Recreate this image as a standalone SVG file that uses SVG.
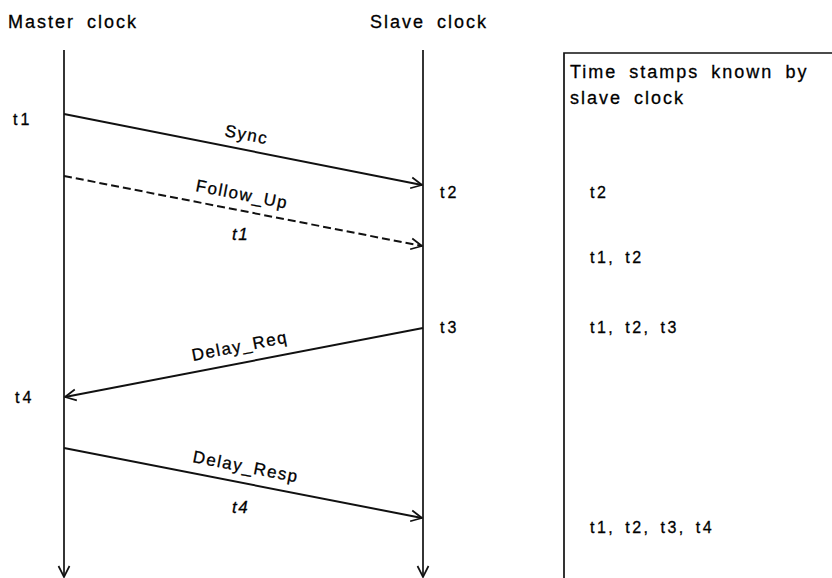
<svg xmlns="http://www.w3.org/2000/svg" width="832" height="578" viewBox="0 0 832 578">
<style>
text{font-family:"Liberation Sans",Arial,sans-serif;fill:#000;stroke:#000;stroke-width:0.3;}
.h{font-size:18px;letter-spacing:2px;word-spacing:5px;}
.l{font-size:16px;letter-spacing:3px;}
.m{font-size:17px;letter-spacing:1.5px;}
.ts{font-size:16px;letter-spacing:2.5px;word-spacing:3px;}
.ln{stroke:#111;stroke-width:1.7;fill:none;}
.msg{stroke:#111;stroke-width:2;fill:none;marker-end:url(#arr);}
</style>
<defs>
<marker id="arr" viewBox="0 0 14 14" refX="13" refY="7" markerWidth="14" markerHeight="14" markerUnits="userSpaceOnUse" orient="auto">
<path d="M2,1.5 L13,7 L2,12.5" fill="none" stroke="#111" stroke-width="1.7"/>
</marker>
</defs>
<rect width="832" height="578" fill="#fff"/>
<g id="master">
<text class="h" x="8" y="28">Master clock</text>
<line class="ln" x1="64" y1="50" x2="64" y2="577" marker-end="url(#arr)"/>
<text class="l" x="13" y="125">t1</text>
<text class="l" x="15" y="403">t4</text>
</g>
<g id="slave">
<text class="h" x="370" y="28">Slave clock</text>
<line class="ln" x1="423" y1="50" x2="423" y2="577" marker-end="url(#arr)"/>
<text class="l" x="440" y="198">t2</text>
<text class="l" x="440" y="333">t3</text>
</g>
<g id="timestamps">
<path class="ln" d="M564,578 V53 H832"/>
<text class="h" x="570" y="78">Time stamps known by</text>
<text class="h" x="570" y="104">slave clock</text>
<text class="ts" x="590" y="198">t2</text>
<text class="ts" x="590" y="263">t1, t2</text>
<text class="ts" x="590" y="333">t1, t2, t3</text>
<text class="ts" x="590" y="533">t1, t2, t3, t4</text>
</g>
<g id="connectors">
<line class="msg" x1="64" y1="114" x2="422" y2="185"/>
<line class="msg" x1="64" y1="176" x2="422" y2="246" stroke-dasharray="8,4"/>
<line class="msg" x1="423" y1="328" x2="65" y2="397"/>
<line class="msg" x1="64" y1="448" x2="422" y2="518"/>
<text class="m" transform="translate(224,136) rotate(11)">Sync</text>
<text class="m" transform="translate(195,191) rotate(11)">Follow_Up</text>
<text class="m" x="232" y="240" font-style="italic">t1</text>
<text class="m" transform="translate(193,361) rotate(-11)">Delay_Req</text>
<text class="m" transform="translate(192,462) rotate(11)">Delay_Resp</text>
<text class="m" x="232" y="513" font-style="italic">t4</text>
</g>
</svg>
